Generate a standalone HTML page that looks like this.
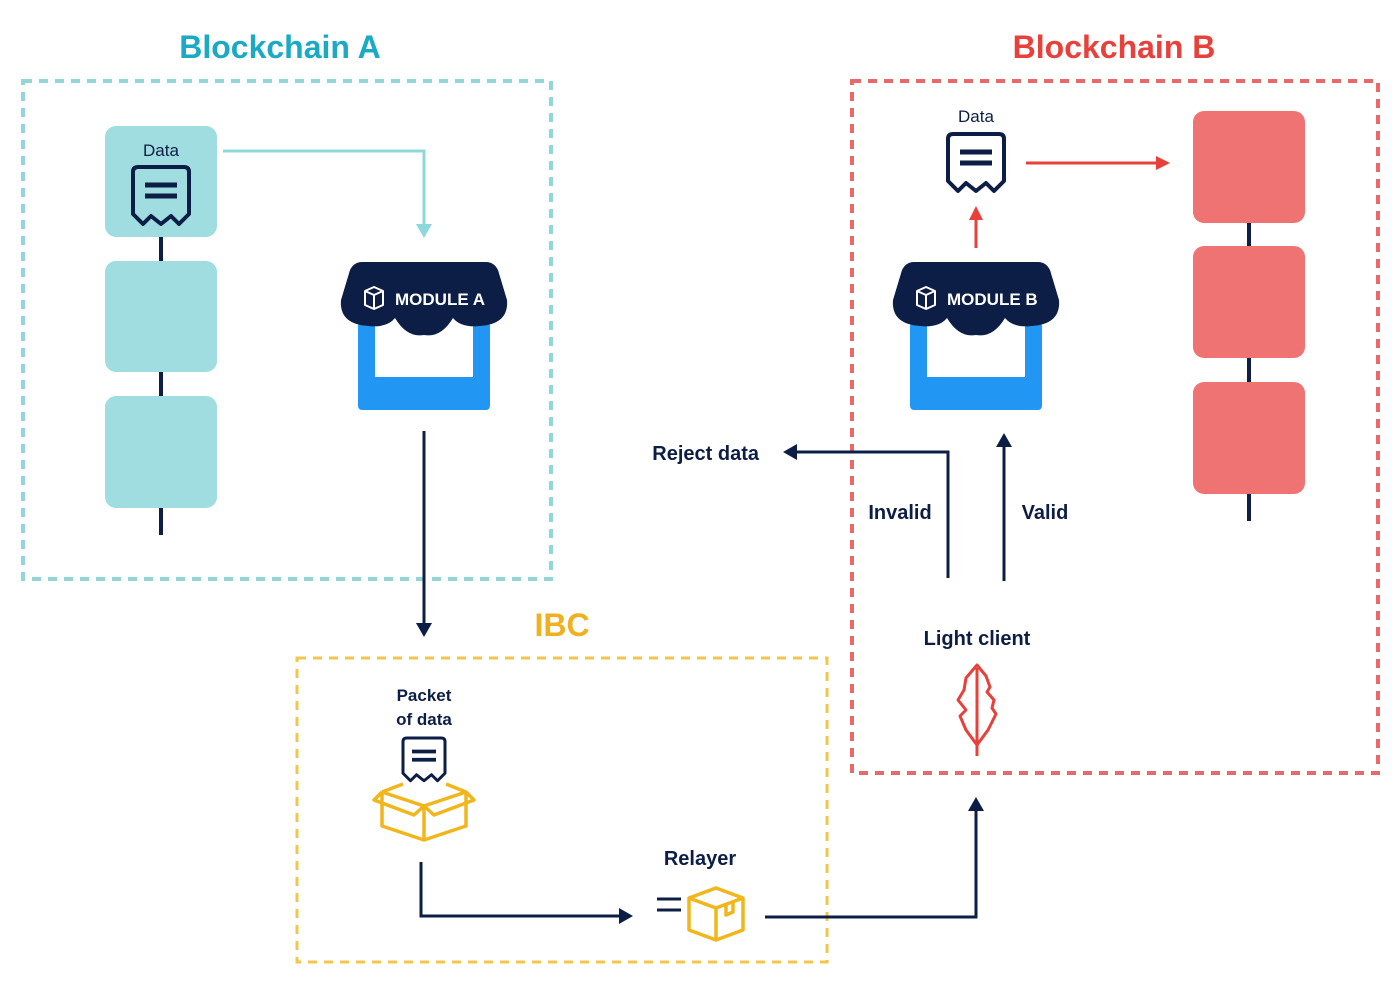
<!DOCTYPE html>
<html><head><meta charset="utf-8"><style>
html,body{margin:0;padding:0;background:#fff;}
svg{display:block;}
text{font-family:"Liberation Sans",sans-serif;font-weight:bold;}
</style></head><body>
<svg width="1400" height="989" viewBox="0 0 1400 989" xmlns="http://www.w3.org/2000/svg">
<defs>
<g id="rc">
<path d="M5,0 H51 Q56,0 56,5 V47 L46,57 L38,49 L28,57 L18,49 L10,57 L0,47 V5 Q0,0 5,0 Z" fill="none" stroke="#0c1e45" stroke-width="4" stroke-linejoin="round"/>
<line x1="12" y1="18" x2="44" y2="18" stroke="#0c1e45" stroke-width="5"/>
<line x1="12" y1="29" x2="44" y2="29" stroke="#0c1e45" stroke-width="5"/>
</g>
<g id="shop">
<rect x="17" y="60" width="132" height="88" rx="4" fill="#2196f3"/>
<rect x="34" y="60" width="98" height="55" fill="#fff"/>
<path d="M21,0 H145 Q153,0 157,8 L166,38 Q168,62 139,64 Q120,66 112,56 Q100,76 83,73 Q66,76 54,56 Q46,66 27,64 Q-2,62 0,38 L9,8 Q13,0 21,0 Z" fill="#0c1e45"/>
<path d="M24,29 L33,25 L42,29 V43 L33,47 L24,43 Z M24,29 L33,33 L42,29 M33,33 V47" fill="none" stroke="#fff" stroke-width="2" stroke-linejoin="round"/>
</g>
</defs>

<text x="280" y="58" font-size="32" fill="#1aaac4" text-anchor="middle">Blockchain A</text>
<text x="1114" y="58" font-size="32" fill="#e8403a" text-anchor="middle">Blockchain B</text>
<text x="562" y="636" font-size="32" fill="#f0b020" text-anchor="middle">IBC</text>

<rect x="23" y="81" width="528" height="498" fill="none" stroke="#92d6da" stroke-width="4" stroke-dasharray="9,7"/>
<rect x="852" y="81" width="526" height="692" fill="none" stroke="#e8696b" stroke-width="4" stroke-dasharray="9,7"/>
<rect x="297" y="658" width="530" height="304" fill="none" stroke="#f2c64a" stroke-width="3" stroke-dasharray="9,7"/>

<line x1="161" y1="230" x2="161" y2="535" stroke="#0c1e45" stroke-width="4"/>
<rect x="105" y="126" width="112" height="111" rx="11" fill="#9fdde0"/>
<rect x="105" y="261" width="112" height="111" rx="11" fill="#9fdde0"/>
<rect x="105" y="396" width="112" height="112" rx="11" fill="#9fdde0"/>
<text x="161" y="156" font-size="17" style="font-weight:normal" fill="#0c1e45" text-anchor="middle">Data</text>
<use href="#rc" transform="translate(133,167)"/>
<polyline points="223,151 424,151 424,228" fill="none" stroke="#8ed8db" stroke-width="3"/>
<polygon points="416,224 432,224 424,238" fill="#8ed8db"/>

<use href="#shop" transform="translate(341,262)"/>
<text x="395" y="305" font-size="17" fill="#fff">MODULE A</text>

<line x1="424" y1="431" x2="424" y2="626" stroke="#0c1e45" stroke-width="3"/>
<polygon points="416,623 432,623 424,637" fill="#0c1e45"/>

<text x="424" y="701" font-size="17" fill="#0c1e45" text-anchor="middle">Packet</text>
<text x="424" y="725" font-size="17" fill="#0c1e45" text-anchor="middle">of data</text>
<g transform="translate(403,738) scale(0.75)"><use href="#rc"/></g>
<g fill="none" stroke="#f0b61c" stroke-width="3.5" stroke-linejoin="round">
<path d="M382,792 L424,806 L466,792 M382,792 V826 L424,840 L466,826 V792 M424,806 V840"/>
<path d="M382,792 L374,800 L414,815 L424,806 L434,815 L474,800 L466,792 L446,784 M382,792 L403,784"/>
</g>
<polyline points="421,862 421,916 620,916" fill="none" stroke="#0c1e45" stroke-width="3"/>
<polygon points="619,908 619,924 633,916" fill="#0c1e45"/>
<text x="700" y="865" font-size="20" fill="#0c1e45" text-anchor="middle">Relayer</text>
<line x1="657" y1="899" x2="681" y2="899" stroke="#0c1e45" stroke-width="3"/>
<line x1="657" y1="910" x2="681" y2="910" stroke="#0c1e45" stroke-width="3"/>
<g fill="none" stroke="#f0b61c" stroke-width="3.5" stroke-linejoin="round">
<path d="M689,898 L716,888 L743,898 V930 L716,940 L689,930 Z M689,898 L716,908 L743,898 M716,908 V940"/>
<path d="M726,904 V915 L733,912 V901"/>
</g>
<polyline points="765,917 976,917 976,810" fill="none" stroke="#0c1e45" stroke-width="3"/>
<polygon points="968,811 984,811 976,797" fill="#0c1e45"/>

<text x="977" y="645" font-size="20" fill="#0c1e45" text-anchor="middle">Light client</text>
<g fill="none" stroke="#e8403a" stroke-width="3" stroke-linejoin="round">
<path d="M977,665 L986,676 L990,687 L987,692 L994,700 L992,708 L996,714 L988,730 L977,745 L966,730 L960,716 L966,710 L958,700 L964,690 L966,678 Z"/>
<line x1="977" y1="668" x2="977" y2="756"/>
</g>
<polyline points="948,578 948,452 797,452" fill="none" stroke="#0c1e45" stroke-width="3"/>
<polygon points="797,444 797,460 783,452" fill="#0c1e45"/>
<line x1="1004" y1="581" x2="1004" y2="446" stroke="#0c1e45" stroke-width="3"/>
<polygon points="996,447 1012,447 1004,433" fill="#0c1e45"/>
<text x="759" y="460" font-size="20" fill="#0c1e45" text-anchor="end">Reject data</text>
<text x="900" y="519" font-size="20" fill="#0c1e45" text-anchor="middle">Invalid</text>
<text x="1045" y="519" font-size="20" fill="#0c1e45" text-anchor="middle">Valid</text>

<use href="#shop" transform="translate(893,262)"/>
<text x="947" y="305" font-size="17" fill="#fff">MODULE B</text>
<line x1="976" y1="248" x2="976" y2="218" stroke="#e8403a" stroke-width="3"/>
<polygon points="969,220 983,220 976,206" fill="#e8403a"/>
<text x="976" y="122" font-size="17" style="font-weight:normal" fill="#0c1e45" text-anchor="middle">Data</text>
<use href="#rc" transform="translate(948,134)"/>
<line x1="1026" y1="163" x2="1158" y2="163" stroke="#e8403a" stroke-width="3"/>
<polygon points="1156,156 1156,170 1170,163" fill="#e8403a"/>

<line x1="1249" y1="215" x2="1249" y2="521" stroke="#0c1e45" stroke-width="4"/>
<rect x="1193" y="111" width="112" height="112" rx="11" fill="#f07373"/>
<rect x="1193" y="246" width="112" height="112" rx="11" fill="#f07373"/>
<rect x="1193" y="382" width="112" height="112" rx="11" fill="#f07373"/>
</svg>
</body></html>
